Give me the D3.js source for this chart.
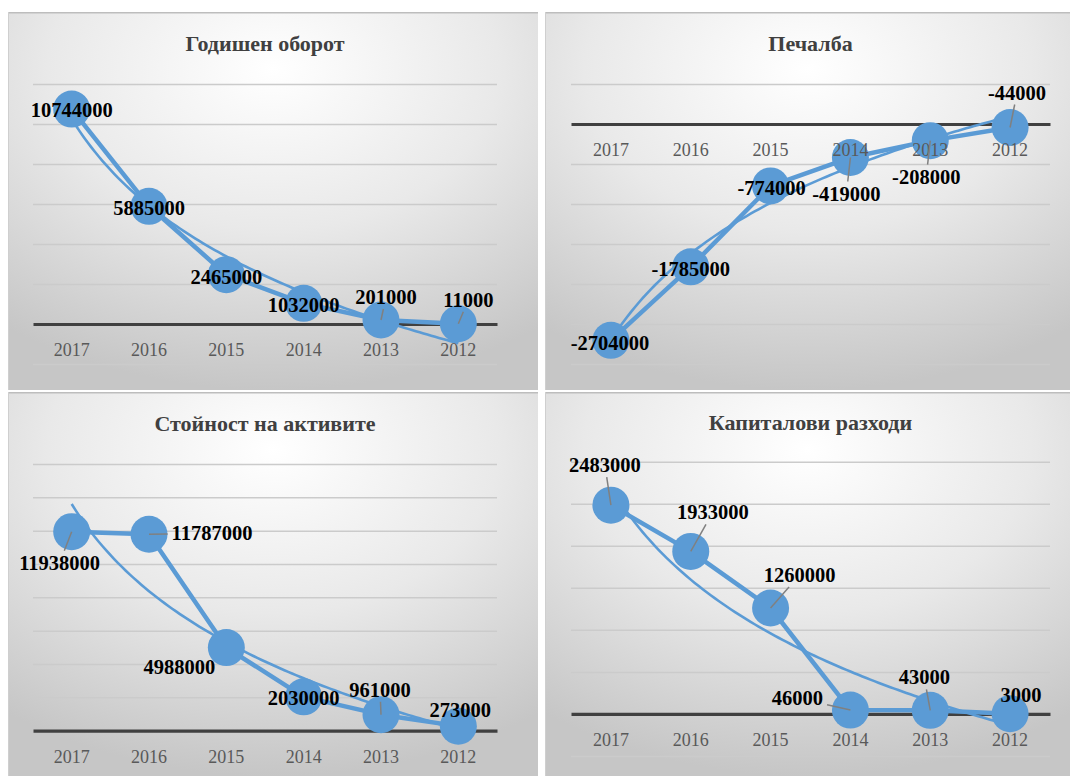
<!DOCTYPE html>
<html>
<head>
<meta charset="utf-8">
<script src="https://cdn.jsdelivr.net/npm/d3@7"></script>
<style>
  html, body { margin: 0; padding: 0; background: #ffffff; }
  svg { display: block; }
</style>
</head>
<body>
<svg id="chart" width="1070" height="776"></svg>
<script>
// ---------------- DATA ----------------
const categories = ["2017", "2016", "2015", "2014", "2013", "2012"];

const turnoverTitle = "Годишен оборот";
const turnoverValues = [10744000, 5885000, 2465000, 1032000, 201000, 11000];
const turnoverTicks = [-2000000, 0, 2000000, 4000000, 6000000, 8000000, 10000000, 12000000];

const profitTitle = "Печалба";
const profitValues = [-2704000, -1785000, -774000, -419000, -208000, -44000];
const profitTicks = [-3000000, -2500000, -2000000, -1500000, -1000000, -500000, 0, 500000];

const assetsTitle = "Стойност на активите";
const assetsValues = [11938000, 11787000, 4988000, 2030000, 961000, 273000];
const assetsTicks = [0, 2000000, 4000000, 6000000, 8000000, 10000000, 12000000, 14000000, 16000000];

const capexTitle = "Капиталови разходи";
const capexValues = [2483000, 1933000, 1260000, 46000, 43000, 3000];
const capexTicks = [-500000, 0, 500000, 1000000, 1500000, 2000000, 2500000, 3000000];

// ---------------- LAYOUT / STYLE (kept apart from the data) ----------------
const BLUE = "#5b9bd5";
const panels = [
  { title: turnoverTitle, values: turnoverValues, ticks: turnoverTicks,
    box: [8, 12, 530, 378], plotX: [33, 497], plotY: [84, 364], titleY: 43,
    labels: [[0,1,0],[0,2,0],[0,2,0],[0,2,0],[5,-23,1],[10,-24,1]] },
  { title: profitTitle, values: profitValues, ticks: profitTicks,
    box: [545, 12, 525, 378], plotX: [571, 1050], plotY: [84, 364], titleY: 43,
    labels: [[-1,3,0],[0,2,0],[1,2,0],[-4,36,1],[-4,36,1],[7,-35,1]] },
  { title: assetsTitle, values: assetsValues, ticks: assetsTicks,
    box: [8, 392, 530, 384], plotX: [33, 497], plotY: [464, 730.7], titleY: 423,
    labels: [[-12,31,1],[63,-1,1],[-47,19,0],[0,1,0],[-1,-25,1],[2,-16,0]] },
  { title: capexTitle, values: capexValues, ticks: capexTicks,
    box: [545, 392, 525, 384], plotX: [571, 1050], plotY: [461.7, 756], titleY: 422,
    labels: [[-6,-40,1],[22,-39,1],[29,-33,1],[-53,-12,1],[-6,-33,1],[11,-19,0]] }
];

// logarithmic least-squares trendline y = a + b*ln(x), x = 1..n (spreadsheet-style)
function logFit(ys) {
  const ls = ys.map((_, i) => Math.log(i + 1));
  const ml = d3.mean(ls), my = d3.mean(ys);
  let sxy = 0, sxx = 0;
  ls.forEach((l, i) => { sxy += (l - ml) * (ys[i] - my); sxx += (l - ml) * (l - ml); });
  const b = sxy / sxx, a = my - b * ml;
  return x => a + b * Math.log(x);
}

const fmt = d3.formatLocale({ decimal: ".", thousands: "", grouping: [3], currency: ["", ""], minus: "-" }).format("d");

const svg = d3.select("#chart");
const defs = svg.append("defs");
const grad = defs.append("radialGradient").attr("id", "bg")
  .attr("cx", "50%").attr("cy", "15%").attr("r", "85%").attr("fx", "50%").attr("fy", "15%");
grad.append("stop").attr("offset", "0%").attr("stop-color", "#ffffff");
grad.append("stop").attr("offset", "50%").attr("stop-color", "#e9e9e9");
grad.append("stop").attr("offset", "100%").attr("stop-color", "#c6c6c6");

const FONT = "'Liberation Serif', 'Times New Roman', serif";

panels.forEach(p => {
  const g = svg.append("g");
  const [bx, by, bw, bh] = p.box;
  g.append("rect").attr("x", bx).attr("y", by).attr("width", bw).attr("height", bh)
    .attr("fill", "url(#bg)");
  g.append("line").attr("x1", bx).attr("x2", bx + bw).attr("y1", by + 0.75).attr("y2", by + 0.75)
    .attr("stroke", "#bdbdbd").attr("stroke-width", 1.5);
  g.append("line").attr("x1", bx + 0.5).attr("x2", bx + 0.5).attr("y1", by).attr("y2", by + bh)
    .attr("stroke", "#cfcfcf").attr("stroke-width", 1);

  const x = d3.scaleBand().domain(categories).range(p.plotX).padding(0);
  const y = d3.scaleLinear().domain(d3.extent(p.ticks)).range([p.plotY[1], p.plotY[0]]);
  const cx = c => x(c) + x.bandwidth() / 2;

  // title
  g.append("text").attr("x", (p.plotX[0] + p.plotX[1]) / 2).attr("y", p.titleY)
    .attr("text-anchor", "middle").attr("dominant-baseline", "central")
    .attr("font-family", FONT).attr("font-weight", "bold").attr("font-size", 22)
    .attr("fill", "#404040").text(p.title);

  // gridlines via axis
  const grid = d3.axisLeft(y).tickValues(p.ticks.filter(t => t !== 0))
    .tickSize(-(p.plotX[1] - p.plotX[0])).tickFormat("");
  const gg = g.append("g").attr("transform", `translate(${p.plotX[0]},0)`).call(grid);
  gg.select(".domain").remove();
  gg.selectAll(".tick line").attr("stroke", "#cbcbcb").attr("stroke-width", 1.5);

  // zero axis line (labels drawn later, above markers)
  const axLine = g.append("g").attr("transform", `translate(0,${y(0)})`)
    .call(d3.axisBottom(x).tickSize(0).tickFormat(""));
  axLine.select(".domain").attr("stroke", "#404040").attr("stroke-width", 3.2);

  // series line
  const line = d3.line().x((d, i) => cx(categories[i])).y(d => y(d));
  g.append("path").datum(p.values).attr("d", line).attr("fill", "none")
    .attr("stroke", BLUE).attr("stroke-width", 4.5).attr("stroke-linejoin", "round");

  // trendline
  const f = logFit(p.values);
  const xi = d3.scaleLinear().domain([1, categories.length])
    .range([cx(categories[0]), cx(categories[categories.length - 1])]);
  const samples = d3.range(1, categories.length + 0.001, 0.05);
  g.append("path").datum(samples)
    .attr("d", d3.line().x(s => xi(s)).y(s => y(f(s))))
    .attr("fill", "none").attr("stroke", BLUE).attr("stroke-width", 2.6);

  // markers
  g.selectAll("circle.m").data(p.values).enter().append("circle").attr("class", "m")
    .attr("cx", (d, i) => cx(categories[i])).attr("cy", d => y(d)).attr("r", 18.5)
    .attr("fill", BLUE);

  // category labels on top of markers
  const ax = g.append("g").attr("transform", `translate(0,${y(0)})`)
    .call(d3.axisBottom(x).tickSize(0).tickPadding(0));
  ax.select(".domain").remove();
  ax.selectAll(".tick text").attr("y", 26).attr("dy", null).attr("dominant-baseline", "central")
    .attr("font-family", FONT).attr("font-size", 18).attr("fill", "#595959");

  // data labels + leader lines
  const leaderG = g.append("g");
  const labelG = g.append("g");
  p.values.forEach((v, i) => {
    const mx = cx(categories[i]), my = y(v);
    const [dx, dy, leader] = p.labels[i];
    const t = labelG.append("text").attr("x", mx + dx).attr("y", my + dy)
      .attr("text-anchor", "middle").attr("dominant-baseline", "central")
      .attr("font-family", FONT).attr("font-weight", "bold").attr("font-size", 20.5)
      .attr("fill", "#000000").text(fmt(v));
    if (leader) {
      const bb = t.node().getBBox();
      const pad = 4;
      const x0 = bb.x - pad, x1 = bb.x + bb.width + pad, y0 = bb.y + 3 - pad, y1 = bb.y + bb.height - 3 + pad;
      const lx = mx + dx, ly = my + dy;
      const vx = mx - lx, vy = my - ly;
      let tmin = Infinity;
      if (vx !== 0) { const tx = (vx > 0 ? x1 - lx : x0 - lx) / vx; tmin = Math.min(tmin, tx); }
      if (vy !== 0) { const ty = (vy > 0 ? y1 - ly : y0 - ly) / vy; tmin = Math.min(tmin, ty); }
      if (tmin < 1) {
        leaderG.append("line")
          .attr("x1", mx).attr("y1", my)
          .attr("x2", lx + vx * tmin).attr("y2", ly + vy * tmin)
          .attr("stroke", "#808080").attr("stroke-width", 1.5);
      }
    }
  });
});
</script>
</body>
</html>
